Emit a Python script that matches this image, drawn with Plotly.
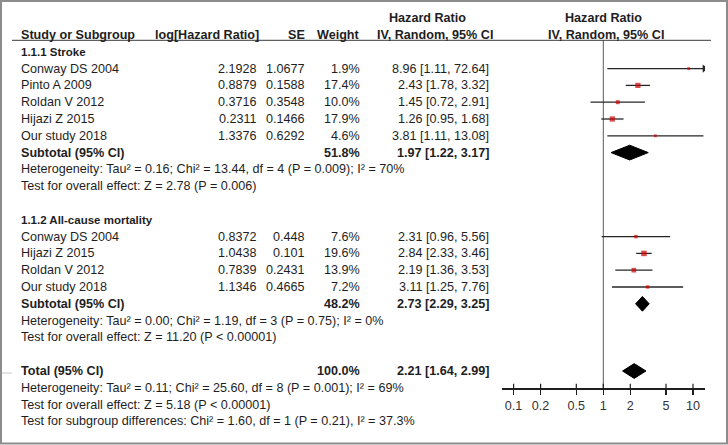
import math
import plotly.graph_objects as go

# ---------------- data ----------------
group_titles = ["1.1.1 Stroke", "1.1.2 All-cause mortality"]

stroke_studies = ["Conway DS 2004", "Pinto A 2009", "Roldan V 2012", "Hijazi Z 2015", "Our study 2018"]
stroke_loghr = [2.1928, 0.8879, 0.3716, 0.2311, 1.3376]
stroke_se = [1.0677, 0.1588, 0.3548, 0.1466, 0.6292]
stroke_weight = [1.9, 17.4, 10.0, 17.9, 4.6]
stroke_hr = [8.96, 2.43, 1.45, 1.26, 3.81]
stroke_lo = [1.11, 1.78, 0.72, 0.95, 1.11]
stroke_hi = [72.64, 3.32, 2.91, 1.68, 13.08]

mort_studies = ["Conway DS 2004", "Hijazi Z 2015", "Roldan V 2012", "Our study 2018"]
mort_loghr = [0.8372, 1.0438, 0.7839, 1.1346]
mort_se = [0.448, 0.101, 0.2431, 0.4665]
mort_weight = [7.6, 19.6, 13.9, 7.2]
mort_hr = [2.31, 2.84, 2.19, 3.11]
mort_lo = [0.96, 2.33, 1.36, 1.25]
mort_hi = [5.56, 3.46, 3.53, 7.76]

pooled_labels = ["Subtotal (95% CI)", "Subtotal (95% CI)", "Total (95% CI)"]
pooled_weight = [51.8, 48.2, 100.0]
pooled_hr = [1.97, 2.73, 2.21]
pooled_lo = [1.22, 2.29, 1.64]
pooled_hi = [3.17, 3.25, 2.99]

stroke_notes = ["Heterogeneity: Tau² = 0.16; Chi² = 13.44, df = 4 (P = 0.009); I² = 70%",
                "Test for overall effect: Z = 2.78 (P = 0.006)"]
mort_notes = ["Heterogeneity: Tau² = 0.00; Chi² = 1.19, df = 3 (P = 0.75); I² = 0%",
              "Test for overall effect: Z = 11.20 (P < 0.00001)"]
total_notes = ["Heterogeneity: Tau² = 0.11; Chi² = 25.60, df = 8 (P = 0.001); I² = 69%",
               "Test for overall effect: Z = 5.18 (P < 0.00001)",
               "Test for subgroup differences: Chi² = 1.60, df = 1 (P = 0.21), I² = 37.3%"]

header_top = ["Hazard Ratio", "Hazard Ratio"]
header_cols = ["Study or Subgroup", "log[Hazard Ratio]", "SE", "Weight",
               "IV, Random, 95% CI", "IV, Random, 95% CI"]
axis_ticks = [0.1, 0.2, 0.5, 1, 2, 5, 10]

# ---------------- layout constants ----------------
W, H = 728, 445
ROW0, PITCH = 35.0, 16.8           # pixel centre of row 0 and row pitch
FONT = "Liberation Sans, Arial, sans-serif"
FS = 12.6
TXT = "#1e1e1e"

X_STUDY, X_LOG, X_SE, X_W, X_CI = 19, 259, 307, 362, 491
X_HDR_L1, X_HDR_L2 = 427, 435
X_HDR_R1, X_HDR_R2 = 603.5, 606
PLOT_L, PLOT_R = 501.7, 705.0       # pixel extent of forest axis
PX_ONE, PX_DEC = 603.3, 89.7        # pixel of HR=1, pixels per decade
AXIS_ROW = (388.3 - ROW0) / PITCH

lg_min = (PLOT_L - PX_ONE) / PX_DEC
lg_max = (PLOT_R - PX_ONE) / PX_DEC
hr_max = 10 ** lg_max

fig = go.Figure()
ann = []


def text(x, row, s, anchor="left", bold=False, size=FS):
    ann.append(dict(x=x, y=row, xref="x", yref="y", text=f"<b>{s}</b>" if bold else s,
                    showarrow=False, xanchor=anchor, yanchor="middle",
                    font=dict(family=FONT, size=size, color=TXT)))


# headers
text(X_HDR_L1, -1, header_top[0], "center", True)
text(X_HDR_R1, -1, header_top[1], "center", True)
text(X_STUDY, 0, header_cols[0], "left", True)
text(X_LOG + 2, 0, header_cols[1], "right", True)
text(X_SE, 0, header_cols[2], "right", True)
text(X_W, 0, header_cols[3], "right", True)
text(X_HDR_L2, 0, header_cols[4], "center", True)
text(X_HDR_R2, 0, header_cols[5], "center", True)

# build rows
groups = [
    (group_titles[0], stroke_studies, stroke_loghr, stroke_se, stroke_weight,
     stroke_hr, stroke_lo, stroke_hi, stroke_notes),
    (group_titles[1], mort_studies, mort_loghr, mort_se, mort_weight,
     mort_hr, mort_lo, mort_hi, mort_notes),
]

study_rows, study_w, study_hr, study_lo, study_hi = [], [], [], [], []
pooled_rows = []
row = 1
for gi, (title, names, lhr, se, w, hr, lo, hi, notes) in enumerate(groups):
    text(X_STUDY, row, title, "left", True, 11.5)
    row += 1
    for i in range(len(names)):
        text(X_STUDY, row, names[i])
        text(X_LOG, row, str(lhr[i]), "right")
        text(X_SE, row, str(se[i]), "right")
        text(X_W, row, f"{w[i]:.1f}%", "right")
        text(X_CI, row, f"{hr[i]:.2f} [{lo[i]:.2f}, {hi[i]:.2f}]", "right")
        study_rows.append(row); study_w.append(w[i]); study_hr.append(hr[i])
        study_lo.append(lo[i]); study_hi.append(hi[i])
        row += 1
    text(X_STUDY, row, pooled_labels[gi], "left", True)
    text(X_W, row, f"{pooled_weight[gi]:.1f}%", "right", True)
    text(X_CI, row, f"{pooled_hr[gi]:.2f} [{pooled_lo[gi]:.2f}, {pooled_hi[gi]:.2f}]", "right", True)
    pooled_rows.append(row)
    row += 1
    for n in notes:
        text(X_STUDY, row, n)
        row += 1
    row += 1  # blank

# total
text(X_STUDY, row, pooled_labels[2], "left", True)
text(X_W, row, f"{pooled_weight[2]:.1f}%", "right", True)
text(X_CI, row, f"{pooled_hr[2]:.2f} [{pooled_lo[2]:.2f}, {pooled_hi[2]:.2f}]", "right", True)
pooled_rows.append(row)
row += 1
for n in total_notes:
    text(X_STUDY, row, n)
    row += 1

# ---------------- forest marks ----------------
fig.add_trace(go.Scatter(x=[1, 1], y=[(40 - ROW0) / PITCH, AXIS_ROW], xaxis="x2", yaxis="y",
                         mode="lines", line=dict(color="#5a5a5a", width=1), hoverinfo="skip"))

cx, cy, arrows_x, arrows_y = [], [], [], []
for r, lo, hi in zip(study_rows, study_lo, study_hi):
    end = min(hi, hr_max)
    cx += [lo, end, None]
    cy += [r, r, None]
    if hi > hr_max:
        arrows_x.append(hr_max * 0.985)
        arrows_y.append(r)
fig.add_trace(go.Scatter(x=cx, y=cy, xaxis="x2", yaxis="y", mode="lines",
                         line=dict(color="#262626", width=1.3), hoverinfo="skip"))
if arrows_x:
    fig.add_trace(go.Scatter(x=arrows_x, y=arrows_y, xaxis="x2", yaxis="y", mode="markers",
                             marker=dict(symbol="triangle-right", size=7, color="#262626"),
                             hoverinfo="skip"))

fig.add_trace(go.Scatter(x=study_hr, y=study_rows, xaxis="x2", yaxis="y", mode="markers",
                         marker=dict(symbol="square", color="#cc0000",
                                     size=[max(2.8, 1.25 * math.sqrt(w)) for w in study_w],
                                     line=dict(width=0)),
                         hoverinfo="skip"))

for r, hr, lo, hi in zip(pooled_rows, pooled_hr, pooled_lo, pooled_hi):
    hh = 0.44
    fig.add_trace(go.Scatter(x=[lo, hr, hi, hr, lo], y=[r, r - hh, r, r + hh, r],
                             xaxis="x2", yaxis="y", mode="lines", fill="toself",
                             fillcolor="#000000", line=dict(color="#000000", width=1),
                             hoverinfo="skip"))

tx, ty = [], []
for t in axis_ticks:
    tx += [t, t, None]
    ty += [AXIS_ROW - 4.5 / PITCH, AXIS_ROW, None]
fig.add_trace(go.Scatter(x=tx, y=ty, xaxis="x2", yaxis="y", mode="lines",
                         line=dict(color="#1e1e1e", width=1.2), hoverinfo="skip"))

# ---------------- decorations ----------------
shapes = [
    dict(type="line", xref="x", yref="y", x0=12, x1=711, y0=(40.3 - ROW0) / PITCH,
         y1=(40.3 - ROW0) / PITCH, line=dict(color="#3a3a3a", width=1)),
    dict(type="rect", xref="x", yref="y", x0=1, x1=W - 1, y0=(1 - ROW0) / PITCH,
         y1=(H - 1.5 - ROW0) / PITCH, line=dict(color="#8c8c8c", width=2)),
    dict(type="line", xref="x", yref="y", x0=2, x1=12, y0=(373 - ROW0) / PITCH,
         y1=(373 - ROW0) / PITCH, line=dict(color="#c8c8c8", width=1)),
]

fig.update_layout(
    width=W, height=H, margin=dict(l=0, r=0, t=0, b=0),
    paper_bgcolor="white", plot_bgcolor="white", showlegend=False,
    annotations=ann, shapes=shapes,
    xaxis=dict(range=[0, W], domain=[0, 1], visible=False, fixedrange=True),
    yaxis=dict(range=[(H - ROW0) / PITCH, -ROW0 / PITCH], domain=[0, 1], visible=False,
               fixedrange=True),
    xaxis2=dict(type="log", range=[lg_min, lg_max], domain=[PLOT_L / W, PLOT_R / W],
                anchor="free", position=1 - (ROW0 + PITCH * AXIS_ROW) / H,
                showline=True, linecolor="#1e1e1e", linewidth=1.3, showgrid=False,
                zeroline=False, ticks="outside", ticklen=5, tickwidth=1.2,
                tickcolor="#1e1e1e", tickvals=axis_ticks,
                ticktext=[f"{t:g}" for t in axis_ticks],
                tickfont=dict(family=FONT, size=FS, color="#333333"), fixedrange=True),
)

fig.write_html("out.html", config={"displayModeBar": False, "staticPlot": True},
               post_script="document.body.style.margin='0';document.body.style.overflow='hidden';")
